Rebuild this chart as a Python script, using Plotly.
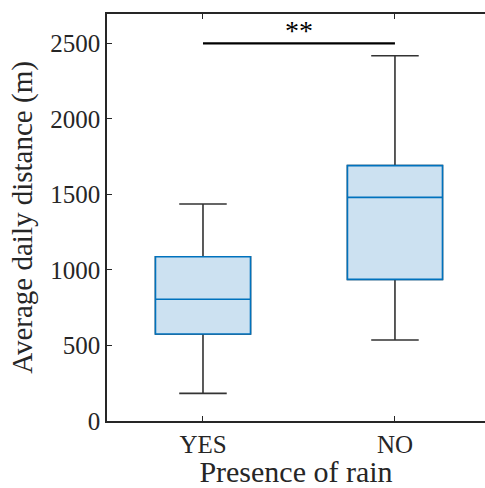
import plotly.graph_objects as go

categories = ["YES", "NO"]
lower_whisker = [183, 536]
q1 = [576, 938]
median = [806, 1481]
q3 = [1088, 1691]
upper_whisker = [1437, 2419]
sig_level = 2500
sig_label = "**"
y_ticks = [0, 500, 1000, 1500, 2000, 2500]

FONT = "Liberation Serif"
AX = "#262626"
x_idx = list(range(len(categories)))

fig = go.Figure()
# whiskers (black)
fig.add_trace(go.Box(
    x=x_idx, q1=q1, median=median, q3=q3,
    lowerfence=lower_whisker, upperfence=upper_whisker,
    width=0.495, whiskerwidth=0.5,
    line=dict(color="#333333", width=1.6),
    fillcolor="rgba(0,0,0,0)", boxpoints=False, hoverinfo="skip",
    showlegend=False,
))
# boxes (blue)
fig.add_trace(go.Box(
    x=x_idx, q1=q1, median=median, q3=q3,
    lowerfence=q1, upperfence=q3,
    width=0.495, whiskerwidth=0,
    line=dict(color="#0072BD", width=1.6),
    fillcolor="#CCE1F1", boxpoints=False,
    showlegend=False,
))

fig.add_shape(type="line", x0=x_idx[0], x1=x_idx[1], y0=sig_level, y1=sig_level,
              line=dict(color="black", width=2.2), xref="x", yref="y")
fig.add_annotation(x=(x_idx[0] + x_idx[1]) / 2, y=sig_level, text=sig_label,
                   showarrow=False, yanchor="bottom", yshift=-5,
                   font=dict(family=FONT, size=28, color="black"))

fig.update_layout(
    width=485, height=488,
    margin=dict(l=107, r=0, t=14, b=67),
    plot_bgcolor="white", paper_bgcolor="white",
    boxmode="overlay",
    font=dict(family=FONT, color=AX),
    xaxis=dict(
        range=[-0.5, 1.469], tickmode="array", tickvals=x_idx, ticktext=categories,
        showline=True, linecolor=AX, linewidth=1.5, mirror="ticks",
        ticks="inside", ticklen=5, tickcolor=AX, showgrid=False, zeroline=False,
        tickfont=dict(size=25, family=FONT, color=AX),
        title=dict(text="Presence of rain", font=dict(size=30, family=FONT, color=AX), standoff=4),
    ),
    yaxis=dict(
        range=[0, 2695], tickvals=y_ticks,
        showline=True, linecolor=AX, linewidth=1.5, mirror=False,
        ticks="inside", ticklen=5, tickcolor=AX, showgrid=False, zeroline=False,
        tickfont=dict(size=25, family=FONT, color=AX),
        title=dict(text="Average daily distance (m)", font=dict(size=29, family=FONT, color=AX), standoff=9),
    ),
)
fig.write_html("out.html", config={"displayModeBar": False},
               post_script="document.body.style.margin='0';")
